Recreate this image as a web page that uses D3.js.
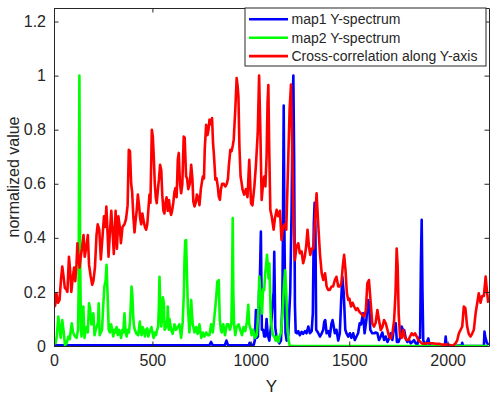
<!DOCTYPE html>
<html>
<head>
<meta charset="utf-8">
<script src="https://cdn.jsdelivr.net/npm/d3@7"></script>
<style>
    body { margin: 0; background: #fff; }
    text { font-family: Arial, "Liberation Sans", sans-serif; fill: #262626; }
</style>
</head>
<body>
<svg id="chart" width="495" height="397"></svg>
<script>
// tick values
const xTicks = [0, 500, 1000, 1500, 2000];
const yTicks = [0, 0.2, 0.4, 0.6, 0.8, 1, 1.2];

// legend labels
const seriesNames = ["map1 Y-spectrum", "map2 Y-spectrum", "Cross-correlation along Y-axis"];

// map1 spectrum (blue)
const blueX = [0, 790, 798, 806, 868, 876, 884, 990, 994, 998, 1015, 1020, 1026, 1030, 1036, 1042, 1046, 1051, 1056,
    1063, 1068, 1074, 1080, 1086, 1094, 1102, 1110, 1116, 1119, 1124, 1130, 1136, 1145, 1153, 1160, 1163, 1167, 1171,
    1176, 1182, 1190, 1200, 1207, 1213, 1216, 1220, 1224, 1228, 1234, 1241, 1249, 1258, 1266, 1275, 1283, 1292, 1300,
    1309, 1315, 1320, 1324, 1328, 1332, 1341, 1351, 1360, 1368, 1373, 1378, 1385, 1393, 1401, 1410, 1415, 1418, 1427,
    1435, 1444, 1452, 1459, 1465, 1472, 1480, 1486, 1495, 1503, 1511, 1520, 1528, 1537, 1545, 1553, 1560, 1570, 1578,
    1587, 1595, 1601, 1607, 1617, 1626, 1634, 1643, 1651, 1660, 1668, 1677, 1685, 1694, 1702, 1711, 1719, 1728, 1736,
    1742, 1750, 1758, 1766, 1772, 1779, 1787, 1795, 1804, 1812, 1820, 1829, 1837, 1846, 1853, 1860, 1864, 1868, 1872,
    1876, 1880, 1888, 1902, 1908, 1930, 1964, 1986, 1990, 1994, 2032, 2072, 2074, 2078, 2133, 2184, 2187, 2192, 2198, 2206];
const blueY = [0.003, 0.003, 0.015, 0.003, 0.003, 0.02, 0.003, 0.003, 0.012, 0.003, 0.005, 0.02, 0.133, 0.03, 0.035, 0.2, 0.25, 0.423, 0.06,
    0.06, 0.035, 0.035, 0.1, 0.04, 0.02, 0.07, 0.15, 0.2, 0.348, 0.07, 0.035, 0.02, 0.01, 0.02, 0.15, 0.4, 0.889, 0.4,
    0.05, 0.02, 0.04, 0.2, 0.5, 0.92, 1.0, 0.689, 0.15, 0.05, 0.047, 0.055, 0.04, 0.052, 0.045, 0.055, 0.047, 0.072, 0.047,
    0.055, 0.121, 0.45, 0.53, 0.442, 0.06, 0.05, 0.035, 0.047, 0.06, 0.09, 0.096, 0.047, 0.055, 0.035, 0.084, 0.096, 0.085, 0.047,
    0.06, 0.02, 0.047, 0.17, 0.256, 0.195, 0.06, 0.047, 0.035, 0.047, 0.03, 0.047, 0.022, 0.035, 0.047, 0.084, 0.08, 0.121, 0.047,
    0.096, 0.17, 0.16, 0.06, 0.047, 0.047, 0.05, 0.047, 0.022, 0.035, 0.05, 0.022, 0.035, 0.015, 0.028, 0.047, 0.022, 0.072, 0.084,
    0.015, 0.015, 0.03, 0.072, 0.06, 0.059, 0.028, 0.015, 0.022, 0.01, 0.015, 0.022, 0.01, 0.005, 0.03, 0.03, 0.3, 0.467, 0.2,
    0.02, 0.015, 0.003, 0.028, 0.003, 0, 0, 0.003, 0.035, 0.003, 0, 0.003, 0.012, 0, 0, 0, 0.053, 0.03, 0.015, 0.003];

// map2 spectrum (green)
const greenX = [0, 8, 14, 22, 28, 34, 42, 48, 56, 64, 73, 80, 90, 97, 107, 115, 122, 125, 129, 133, 137, 140, 149, 155,
    160, 166, 172, 178, 183, 190, 196, 200, 206, 212, 217, 224, 227, 232, 238, 244, 250, 256, 262, 267, 272, 278, 284,
    290, 296, 301, 307, 313, 318, 324, 330, 335, 341, 347, 352, 358, 364, 369, 375, 381, 386, 390, 394, 398, 403, 407,
    411, 419, 428, 436, 440, 445, 450, 456, 462, 468, 474, 479, 485, 490, 495, 500, 506, 512, 518, 524, 529, 533, 536,
    541, 545, 549, 553, 558, 562, 566, 570, 576, 578, 583, 587, 595, 603, 612, 620, 629, 637, 646, 654, 660, 663, 667,
    671, 676, 680, 688, 693, 697, 701, 705, 714, 722, 730, 739, 748, 756, 764, 773, 781, 790, 798, 807, 815, 823, 830,
    837, 842, 848, 852, 860, 869, 878, 886, 894, 901, 905, 908, 911, 915, 921, 928, 938, 946, 955, 963, 972, 980, 987,
    992, 1000, 1004, 1012, 1021, 1030, 1038, 1043, 1048, 1053, 1057, 1062, 1068, 1073, 1077, 1082, 1086, 1090, 1094,
    1098, 1102, 1106, 1112, 1119, 1126, 1133, 1140, 1146, 1153, 1161, 1168, 1174, 1180, 1186, 1192, 1198, 2206];
const greenY = [0.01, 0.01, 0.035, 0.109, 0.07, 0.03, 0.096, 0.06, 0.003, 0.01, 0.035, 0.025, 0.084, 0.05, 0.035, 0.03, 0.06, 0.195, 1.0, 0.318, 0.06, 0.035, 0.146, 0.03,
    0.06, 0.07, 0.05, 0.158, 0.14, 0.08, 0.1, 0.121, 0.04, 0.06, 0.07, 0.09, 0.158, 0.04, 0.05, 0.06, 0.146, 0.22, 0.24, 0.30, 0.195, 0.06, 0.05,
    0.08, 0.06, 0.035, 0.06, 0.05, 0.07, 0.04, 0.06, 0.05, 0.03, 0.06, 0.05, 0.121, 0.05, 0.035, 0.06, 0.05, 0.09, 0.15, 0.22, 0.189, 0.1, 0.07,
    0.06, 0.045, 0.04, 0.09, 0.06, 0.04, 0.07, 0.06, 0.035, 0.06, 0.065, 0.035, 0.05, 0.06, 0.07, 0.05, 0.03, 0.05, 0.04, 0.06, 0.07, 0.15, 0.256,
    0.12, 0.072, 0.1, 0.18, 0.16, 0.06, 0.065, 0.072, 0.1, 0.146, 0.06, 0.1, 0.06, 0.045, 0.08, 0.06, 0.07, 0.08, 0.03, 0.09, 0.2, 0.318, 0.39,
    0.392, 0.25, 0.15, 0.05, 0.1, 0.17, 0.12, 0.08, 0.05, 0.07, 0.045, 0.08, 0.03, 0.05, 0.035, 0.05, 0.04, 0.04, 0.08, 0.05, 0.11, 0.17, 0.238,
    0.244, 0.1, 0.06, 0.05, 0.08, 0.04, 0.08, 0.08, 0.06, 0.08, 0.25, 0.473, 0.2, 0.08, 0.04, 0.07, 0.08, 0.06, 0.04, 0.07, 0.055, 0.09, 0.152,
    0.08, 0.06, 0.04, 0.06, 0.03, 0.04, 0.121, 0.257, 0.2, 0.155, 0.12, 0.21, 0.207, 0.27, 0.294, 0.337, 0.3, 0.25, 0.305,
    0.2, 0.09, 0.07, 0.04, 0.035, 0.02, 0.035, 0.015, 0.035, 0.05, 0.121, 0.22, 0.28, 0.2, 0.07, 0.02, 0, 0];

// cross-correlation (red)
const redX = [0, 6, 12, 20, 28, 36, 42, 48, 55, 62, 68, 76, 82, 88, 95, 102, 108, 114, 119, 124, 130, 136, 142, 150,
    156, 163, 172, 178, 186, 194, 200, 208, 216, 222, 230, 238, 246, 254, 260, 266, 272, 277, 284, 291, 297, 304, 313,
    320, 327, 334, 340, 348, 358, 366, 374, 380, 386, 392, 397, 403, 409, 414, 420, 426, 432, 438, 443, 449, 456, 462,
    468, 474, 480, 485, 490, 497, 502, 507, 512, 517, 522, 528, 533, 539, 545, 550, 556, 561, 566, 572, 578, 584, 590,
    595, 600, 606, 612, 617, 623, 629, 634, 640, 646, 652, 659, 664, 671, 676, 682, 690, 697, 703, 708, 714, 720, 726,
    732, 739, 746, 756, 762, 766, 773, 780, 785, 790, 796, 803, 808, 813, 820, 826, 832, 837, 843, 848, 854, 862, 871,
    878, 884, 888, 896, 902, 908, 913, 921, 928, 933, 937, 942, 948, 954, 958, 966, 975, 983, 992, 1001, 1008, 1018,
    1026, 1035, 1042, 1048, 1055, 1062, 1068, 1074, 1080, 1085, 1089, 1093, 1099, 1106, 1116, 1122, 1131, 1139, 1148,
    1156, 1164, 1173, 1180, 1190, 1197, 1204, 1210, 1217, 1224, 1232, 1241, 1249, 1258, 1266, 1274, 1281, 1288, 1295,
    1302, 1310, 1318, 1326, 1334, 1342, 1351, 1360, 1368, 1377, 1385, 1393, 1401, 1410, 1418, 1427, 1435, 1444, 1452,
    1460, 1467, 1474, 1481, 1488, 1495, 1501, 1509, 1517, 1525, 1534, 1542, 1550, 1558, 1567, 1575, 1584, 1592, 1600,
    1609, 1617, 1626, 1634, 1643, 1651, 1660, 1668, 1677, 1685, 1694, 1702, 1711, 1719, 1728, 1735, 1741, 1746, 1751,
    1758, 1766, 1775, 1783, 1792, 1800, 1809, 1817, 1826, 1834, 1843, 1851, 1860, 1868, 1876, 1890, 1905, 1922, 1939,
    1956, 1973, 1990, 2007, 2024, 2032, 2040, 2049, 2057, 2066, 2074, 2082, 2090, 2099, 2107, 2116, 2124, 2133, 2142,
    2150, 2158, 2167, 2175, 2184, 2193, 2200, 2206];
const redY = [0.145, 0.15, 0.195, 0.16, 0.17, 0.25, 0.294, 0.26, 0.215, 0.21, 0.2, 0.33, 0.28, 0.2, 0.25, 0.29, 0.24, 0.3, 0.38, 0.33, 0.29, 0.33, 0.36, 0.41,
    0.33, 0.36, 0.41, 0.3, 0.26, 0.226, 0.24, 0.29, 0.41, 0.45, 0.43, 0.32, 0.4, 0.48, 0.44, 0.516, 0.42, 0.33, 0.42, 0.5, 0.43, 0.34, 0.5,
    0.36, 0.48, 0.44, 0.38, 0.44, 0.45, 0.47, 0.52, 0.726, 0.72, 0.6, 0.57, 0.48, 0.42, 0.46, 0.5, 0.56, 0.52, 0.47, 0.45, 0.49, 0.46, 0.44,
    0.43, 0.45, 0.51, 0.56, 0.53, 0.80, 0.775, 0.7, 0.6, 0.55, 0.528, 0.58, 0.615, 0.67, 0.65, 0.56, 0.5, 0.49, 0.53, 0.55, 0.5, 0.54, 0.5,
    0.485, 0.5, 0.53, 0.57, 0.584, 0.55, 0.69, 0.714, 0.6, 0.565, 0.6, 0.775, 0.77, 0.627, 0.62, 0.58, 0.6, 0.67, 0.62, 0.534, 0.516, 0.53, 0.56,
    0.55, 0.521, 0.58, 0.627, 0.62, 0.73, 0.818, 0.78, 0.8, 0.837, 0.82, 0.843, 0.75, 0.702, 0.615, 0.62, 0.59, 0.553, 0.541, 0.58, 0.6, 0.6, 0.59,
    0.6, 0.62, 0.664, 0.726, 0.72, 0.74, 0.763, 0.874, 0.991, 0.96, 0.923, 0.738, 0.627, 0.6, 0.578, 0.56, 0.58, 0.55, 0.689, 0.528, 0.52, 0.59,
    0.67, 0.787, 1.0, 0.81, 0.54, 0.6, 0.627, 0.59, 0.7, 0.9, 0.965, 0.75, 0.504, 0.48, 0.43, 0.47, 0.504, 0.48, 0.5,
    0.392, 0.442, 0.45, 0.43, 0.689, 0.874, 0.967, 0.738, 0.467, 0.318, 0.368, 0.38, 0.343, 0.35, 0.306, 0.33, 0.368, 0.43, 0.37,
    0.337, 0.36, 0.36, 0.467, 0.565, 0.455, 0.343, 0.269, 0.244, 0.269, 0.22, 0.207, 0.207, 0.22, 0.22, 0.244, 0.256, 0.22, 0.22,
    0.232, 0.294, 0.337, 0.281, 0.195, 0.17, 0.175, 0.146, 0.16, 0.146, 0.133, 0.14, 0.128, 0.121, 0.115, 0.109, 0.13, 0.232, 0.244,
    0.16, 0.084, 0.072, 0.085, 0.133, 0.096, 0.059, 0.07, 0.096, 0.085, 0.06, 0.035, 0.028, 0.045, 0.096, 0.195, 0.36, 0.294, 0.121,
    0.035, 0.03, 0.059, 0.03, 0.022, 0.022, 0.035, 0.047, 0.04, 0.047, 0.035, 0.022, 0.016, 0.01, 0.008, 0.01, 0.01, 0.01, 0.008,
    0.008, 0.005, 0.005, 0.005, 0, 0.005, 0.01, 0.022, 0.047, 0.06, 0.072, 0.146, 0.14, 0.072, 0.045, 0.035, 0.045, 0.06, 0.121,
    0.158, 0.195, 0.16, 0.185, 0.185, 0.257, 0.2, 0.16];

const width = 495, height = 397;
const margin = { top: 8, right: 6, bottom: 51, left: 54 };
const svg = d3.select("#chart");

// scales
const x = d3.scaleLinear()
    .domain([0, 2210])
    .range([margin.left, width - margin.right]);
const y = d3.scaleLinear()
    .domain([0, 1.25])
    .range([height - margin.bottom, margin.top]);

const plotLeft = x.range()[0], plotRight = x.range()[1];
const plotTop = y.range()[1], plotBottom = y.range()[0];

// clip the lines to the axes box
svg.append("defs").append("clipPath")
    .attr("id", "plot-clip")
    .append("rect")
    .attr("x", plotLeft).attr("y", plotTop)
    .attr("width", plotRight - plotLeft).attr("height", plotBottom - plotTop);

// lines
const series = [
    { name: seriesNames[0], color: "#0000ff", xs: blueX, ys: blueY },
    { name: seriesNames[1], color: "#00ff00", xs: greenX, ys: greenY },
    { name: seriesNames[2], color: "#ff0000", xs: redX, ys: redY }
];
const line = d3.line()
    .x(d => x(d[0]))
    .y(d => y(d[1]));
svg.append("g")
    .attr("clip-path", "url(#plot-clip)")
    .selectAll("path")
    .data(series)
    .join("path")
    .attr("d", s => line(d3.zip(s.xs, s.ys)))
    .attr("fill", "none")
    .attr("stroke", s => s.color)
    .attr("stroke-width", 2.6)
    .attr("stroke-linejoin", "round");

// axes (ticks inside, box on)
const tickLen = 4.5;
svg.append("g")
    .attr("transform", `translate(0, ${plotBottom})`)
    .call(d3.axisBottom(x).tickValues(xTicks).tickSizeInner(-tickLen).tickSizeOuter(0).tickPadding(9).tickFormat(d3.format("d")))
    .call(g => g.selectAll("text").style("font-size", "16px"));
svg.append("g")
    .attr("transform", `translate(0, ${plotTop})`)
    .call(d3.axisTop(x).tickValues(xTicks).tickSizeInner(-tickLen).tickSizeOuter(0).tickFormat(""));
svg.append("g")
    .attr("transform", `translate(${plotLeft}, 0)`)
    .call(d3.axisLeft(y).tickValues(yTicks).tickSizeInner(-tickLen).tickSizeOuter(0).tickPadding(8).tickFormat(d3.format("~g")))
    .call(g => g.selectAll("text").style("font-size", "16px"));
svg.append("g")
    .attr("transform", `translate(${plotRight}, 0)`)
    .call(d3.axisRight(y).tickValues(yTicks).tickSizeInner(-tickLen).tickSizeOuter(0).tickFormat(""));
svg.selectAll(".domain, .tick line").attr("stroke", "#262626");
svg.selectAll(".tick text").attr("fill", "#262626").style("font-family", "Arial, 'Liberation Sans', sans-serif");

// axis labels
svg.append("text")
    .attr("x", (plotLeft + plotRight) / 2)
    .attr("y", 392)
    .attr("text-anchor", "middle")
    .style("font-size", "17px")
    .text("Y");
svg.append("text")
    .attr("transform", `translate(18.5, ${(plotTop + plotBottom) / 2}) rotate(-90)`)
    .attr("text-anchor", "middle")
    .style("font-size", "16px")
    .text("normalized value");

// legend
const legend = svg.append("g").attr("transform", `translate(245, ${plotTop})`);
legend.append("rect")
    .attr("width", 241)
    .attr("height", 58)
    .attr("fill", "#fff")
    .attr("stroke", "#262626")
    .attr("stroke-width", 1);
const rows = legend.selectAll(".row")
    .data(series)
    .join("g")
    .attr("class", "row")
    .attr("transform", (d, i) => `translate(0, ${11.3 + i * 18.4})`);
rows.append("line")
    .attr("x1", 4).attr("x2", 43)
    .attr("stroke", d => d.color)
    .attr("stroke-width", 2.6);
rows.append("text")
    .attr("x", 46.5)
    .attr("dy", "0.35em")
    .style("font-size", "14px")
    .text(d => d.name);
</script>
</body>
</html>
